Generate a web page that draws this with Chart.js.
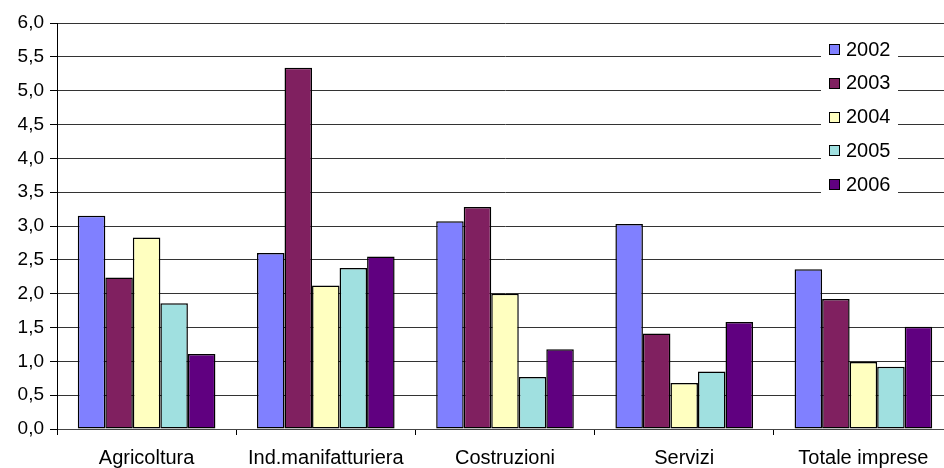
<!DOCTYPE html>
<html>
<head>
<meta charset="utf-8">
<script src="https://cdn.jsdelivr.net/npm/chart.js@4/dist/chart.umd.min.js"></script>
<style>
  html, body { margin: 0; padding: 0; overflow: hidden; background: #fff; }
  #wrap { position: absolute; left: 0; top: 0; width: 954px; height: 468px; }
</style>
</head>
<body>
<div id="wrap"><canvas id="c"></canvas></div>
<script>
const categories = ['Agricoltura', 'Ind.manifatturiera', 'Costruzioni', 'Servizi', 'Totale imprese'];
const years = ['2002', '2003', '2004', '2005', '2006'];
const v2002 = [3.15, 2.60, 3.07, 3.03, 2.36];
const v2003 = [2.24, 5.34, 3.28, 1.41, 1.92];
const v2004 = [2.83, 2.12, 2.00, 0.68, 0.99];
const v2005 = [1.86, 2.38, 0.77, 0.85, 0.92];
const v2006 = [1.11, 2.55, 1.18, 1.58, 1.51];
const colors = ['#8080FF', '#802060', '#FFFFC0', '#A0E0E0', '#600080'];
const yMin = 0, yMax = 6, yStep = 0.5;

const series = [v2002, v2003, v2004, v2005, v2006];
const FONT = '"Liberation Sans", Arial, sans-serif';

const legendPlugin = {
  id: 'insideLegend',
  afterDraw(chart) {
    const ctx = chart.ctx;
    ctx.save();
    ctx.fillStyle = '#fff';
    ctx.fillRect(821, 33, 77, 167);
    ctx.font = '20px ' + FONT;
    ctx.textBaseline = 'middle';
    ctx.textAlign = 'left';
    chart.data.datasets.forEach((ds, i) => {
      const yc = 49 + i * 33.8;
      ctx.fillStyle = ds.backgroundColor;
      ctx.fillRect(829.5, Math.round(yc - 5) + 0.5, 10, 10);
      ctx.strokeStyle = '#000';
      ctx.lineWidth = 1;
      ctx.strokeRect(829.5, Math.round(yc - 5) + 0.5, 10, 10);
      ctx.fillStyle = '#000';
      ctx.fillText(ds.label, 846, yc + 1);
    });
    ctx.restore();
  }
};

new Chart(document.getElementById('c'), {
  type: 'bar',
  data: {
    labels: categories,
    datasets: years.map((y, i) => ({
      label: y,
      data: series[i],
      backgroundColor: colors[i],
      borderColor: '#000',
      borderWidth: 1.5,
      borderSkipped: false,
      barPercentage: 1,
      categoryPercentage: 0.768
    }))
  },
  options: {
    responsive: true,
    maintainAspectRatio: false,
    animation: false,
    layout: { padding: { top: 23, right: 1, left: 0, bottom: 0 } },
    plugins: {
      legend: { display: false },
      tooltip: { enabled: false }
    },
    scales: {
      x: {
        afterFit(s) { s.height = 39; },
        grid: {
          offset: true,
          drawOnChartArea: false,
          drawTicks: true,
          tickLength: 6,
          tickColor: '#000'
        },
        border: { color: '#444', width: 1 },
        ticks: {
          color: '#000',
          font: { family: FONT, size: 20 },
          padding: 11,
          maxRotation: 0,
          autoSkip: false
        }
      },
      y: {
        min: yMin,
        max: yMax,
        afterFit(s) { s.width = 57; },
        grid: {
          color: '#333',
          lineWidth: 1,
          tickLength: 7,
          tickColor: '#000'
        },
        border: { color: '#000', width: 1 },
        ticks: {
          stepSize: yStep,
          color: '#000',
          padding: 6,
          font: { family: FONT, size: 19 },
          callback: v => v.toFixed(1).replace('.', ',')
        }
      }
    }
  },
  plugins: [legendPlugin]
});
</script>
</body>
</html>
